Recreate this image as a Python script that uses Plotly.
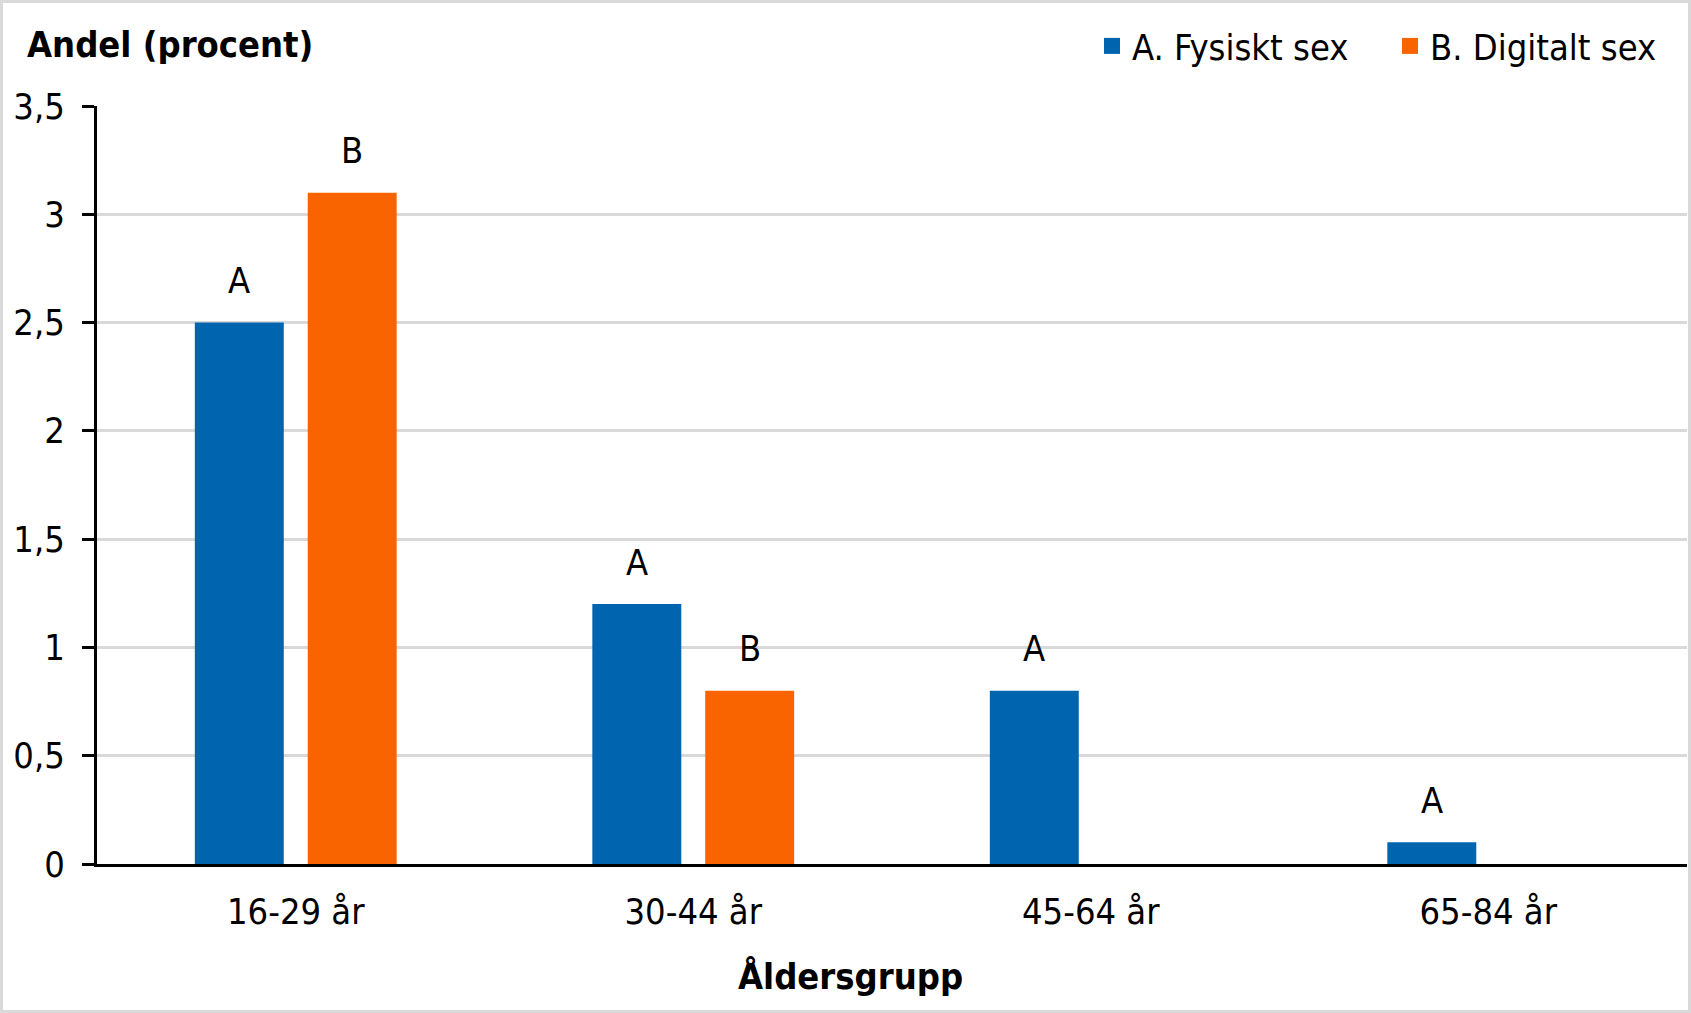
import plotly.graph_objects as go

categories = ["16-29 år", "30-44 år", "45-64 år", "65-84 år"]
fysiskt = [2.5, 1.2, 0.8, 0.1]
digitalt = [3.1, 0.8, None, None]
labels_a = ["A", "A", "A", "A"]
labels_b = ["B", "B", None, None]
series_names = ["A. Fysiskt sex", "B. Digitalt sex"]
y_ticks = [0, 0.5, 1, 1.5, 2, 2.5, 3, 3.5]

BLUE = "#0064AF"
ORANGE = "#F96400"
FONT = "DejaVu Sans Condensed, Open Sans, sans-serif"
FS = 36

W, H = 1691, 1013
ML, MR, MT, MB = 97, 4, 106, 149
PW, PH = W - ML - MR, H - MT - MB
BARGAP, GROUPGAP = 0.432, 0.212
slot_px = (1 - BARGAP) * (PW / len(categories)) / 2

fig = go.Figure()
fig.add_trace(go.Bar(x=categories, y=fysiskt, name=series_names[0],
                     marker=dict(color=BLUE, line=dict(width=0)), showlegend=False))
fig.add_trace(go.Bar(x=categories, y=digitalt, name=series_names[1],
                     marker=dict(color=ORANGE, line=dict(width=0)), showlegend=False))
# legend entries
for name, col in zip(series_names, [BLUE, ORANGE]):
    fig.add_trace(go.Scatter(x=[None], y=[None], mode="markers", name=name,
                             marker=dict(symbol="square", size=18, color=col)))

annotations = []
for cat, val, lab in zip(categories, fysiskt, labels_a):
    if val is not None and lab:
        annotations.append(dict(x=cat, y=val, xref="x", yref="y", text=lab, showarrow=False,
                                xshift=-slot_px / 2, yshift=42, yanchor="middle",
                                font=dict(family=FONT, size=FS, color="black")))
for cat, val, lab in zip(categories, digitalt, labels_b):
    if val is not None and lab:
        annotations.append(dict(x=cat, y=val, xref="x", yref="y", text=lab, showarrow=False,
                                xshift=slot_px / 2, yshift=42, yanchor="middle",
                                font=dict(family=FONT, size=FS, color="black")))
# y-axis title (top-left)
annotations.append(dict(x=(25 - ML) / PW, y=1 + (MT - 44) / PH, xref="paper", yref="paper",
                        xanchor="left", yanchor="middle", showarrow=False,
                        text="<b>Andel (procent)</b>",
                        font=dict(family=FONT, size=FS, color="black")))
# x-axis title
annotations.append(dict(x=(W / 2 + 5 - ML) / PW, y=-(976 - (H - MB)) / PH, xref="paper", yref="paper",
                        xanchor="center", yanchor="middle", showarrow=False,
                        text="<b>Åldersgrupp</b>",
                        font=dict(family=FONT, size=FS, color="black")))

shapes = [dict(type="rect", xref="paper", yref="paper",
               x0=(1.5 - ML) / PW, x1=(W - 1.5 - ML) / PW,
               y0=-(MB - 1.5) / PH, y1=1 + (MT - 1.5) / PH,
               line=dict(color="#D9D9D9", width=3), fillcolor="rgba(0,0,0,0)", layer="below")]

fig.update_layout(
    width=W, height=H,
    margin=dict(l=ML, r=MR, t=MT, b=MB, autoexpand=False),
    paper_bgcolor="white", plot_bgcolor="white",
    barmode="group", bargap=BARGAP, bargroupgap=GROUPGAP,
    separators=", ",
    font=dict(family=FONT, size=FS, color="black"),
    showlegend=True,
    legend=dict(orientation="h", x=(1092 - ML) / PW, xanchor="left",
                y=1 + (MT - 46) / PH, yanchor="middle",
                font=dict(family=FONT, size=FS, color="black"),
                itemwidth=30, entrywidth=253, entrywidthmode="pixels",
                bgcolor="rgba(0,0,0,0)"),
    annotations=annotations, shapes=shapes,
    xaxis=dict(type="category", showline=True, linecolor="black", linewidth=3,
               ticks="", showgrid=False, zeroline=False, ticklabelstandoff=14,
               tickfont=dict(family=FONT, size=FS, color="black")),
    yaxis=dict(range=[0, 3.5], tickvals=y_ticks, showline=True, linecolor="black", linewidth=3,
               ticks="outside", ticklen=12, tickwidth=3, tickcolor="black",
               showgrid=True, gridcolor="#D9D9D9", gridwidth=3, zeroline=False,
               ticklabelstandoff=10,
               tickfont=dict(family=FONT, size=FS, color="black")),
)

fig.write_html("out.html")
